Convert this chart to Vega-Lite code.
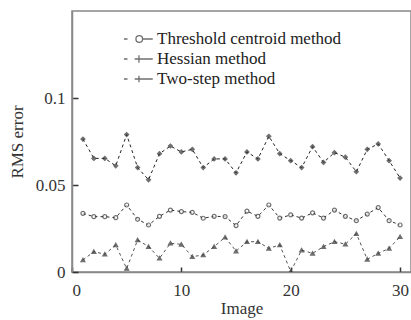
{
  "$schema": "https://vega.github.io/schema/vega-lite/v6.json",
  "width": 339,
  "height": 261,
  "autosize": {"type": "none"},
  "padding": {"left": 72, "top": 11, "right": 0, "bottom": 48},
  "background": "white",
  "config": {
    "font": "Liberation Serif",
    "view": {"stroke": "#888", "strokeWidth": 1.5},
    "axis": {"grid": false, "zindex": 1, "domainColor": "#888", "domainWidth": 1.5, "tickColor": "#333", "tickWidth": 1.5, "labelColor": "#333", "titleColor": "#333", "labelFont": "Liberation Serif", "titleFont": "Liberation Serif", "labelFontSize": 17, "titleFontSize": 17, "titleFontWeight": "normal"}
  },
  "data": {
    "values": [
      {"image": 1, "method": "Threshold centroid method", "rms": 0.0337},
      {"image": 2, "method": "Threshold centroid method", "rms": 0.0318},
      {"image": 3, "method": "Threshold centroid method", "rms": 0.0318},
      {"image": 4, "method": "Threshold centroid method", "rms": 0.0312},
      {"image": 5, "method": "Threshold centroid method", "rms": 0.0385},
      {"image": 6, "method": "Threshold centroid method", "rms": 0.0303},
      {"image": 7, "method": "Threshold centroid method", "rms": 0.027},
      {"image": 8, "method": "Threshold centroid method", "rms": 0.032},
      {"image": 9, "method": "Threshold centroid method", "rms": 0.0356},
      {"image": 10, "method": "Threshold centroid method", "rms": 0.0347},
      {"image": 11, "method": "Threshold centroid method", "rms": 0.0343},
      {"image": 12, "method": "Threshold centroid method", "rms": 0.0309},
      {"image": 13, "method": "Threshold centroid method", "rms": 0.032},
      {"image": 14, "method": "Threshold centroid method", "rms": 0.0318},
      {"image": 15, "method": "Threshold centroid method", "rms": 0.0267},
      {"image": 16, "method": "Threshold centroid method", "rms": 0.035},
      {"image": 17, "method": "Threshold centroid method", "rms": 0.032},
      {"image": 18, "method": "Threshold centroid method", "rms": 0.0385},
      {"image": 19, "method": "Threshold centroid method", "rms": 0.031},
      {"image": 20, "method": "Threshold centroid method", "rms": 0.0328},
      {"image": 21, "method": "Threshold centroid method", "rms": 0.031},
      {"image": 22, "method": "Threshold centroid method", "rms": 0.034},
      {"image": 23, "method": "Threshold centroid method", "rms": 0.031},
      {"image": 24, "method": "Threshold centroid method", "rms": 0.0356},
      {"image": 25, "method": "Threshold centroid method", "rms": 0.032},
      {"image": 26, "method": "Threshold centroid method", "rms": 0.0295},
      {"image": 27, "method": "Threshold centroid method", "rms": 0.0333},
      {"image": 28, "method": "Threshold centroid method", "rms": 0.037},
      {"image": 29, "method": "Threshold centroid method", "rms": 0.0295},
      {"image": 30, "method": "Threshold centroid method", "rms": 0.027},
      {"image": 1, "method": "Hessian method", "rms": 0.0764},
      {"image": 2, "method": "Hessian method", "rms": 0.0653},
      {"image": 3, "method": "Hessian method", "rms": 0.0653},
      {"image": 4, "method": "Hessian method", "rms": 0.061},
      {"image": 5, "method": "Hessian method", "rms": 0.079},
      {"image": 6, "method": "Hessian method", "rms": 0.06},
      {"image": 7, "method": "Hessian method", "rms": 0.053},
      {"image": 8, "method": "Hessian method", "rms": 0.068},
      {"image": 9, "method": "Hessian method", "rms": 0.0724},
      {"image": 10, "method": "Hessian method", "rms": 0.069},
      {"image": 11, "method": "Hessian method", "rms": 0.0705},
      {"image": 12, "method": "Hessian method", "rms": 0.06},
      {"image": 13, "method": "Hessian method", "rms": 0.065},
      {"image": 14, "method": "Hessian method", "rms": 0.065},
      {"image": 15, "method": "Hessian method", "rms": 0.057},
      {"image": 16, "method": "Hessian method", "rms": 0.069},
      {"image": 17, "method": "Hessian method", "rms": 0.065},
      {"image": 18, "method": "Hessian method", "rms": 0.078},
      {"image": 19, "method": "Hessian method", "rms": 0.068},
      {"image": 20, "method": "Hessian method", "rms": 0.064},
      {"image": 21, "method": "Hessian method", "rms": 0.06},
      {"image": 22, "method": "Hessian method", "rms": 0.072},
      {"image": 23, "method": "Hessian method", "rms": 0.063},
      {"image": 24, "method": "Hessian method", "rms": 0.0686},
      {"image": 25, "method": "Hessian method", "rms": 0.066},
      {"image": 26, "method": "Hessian method", "rms": 0.0576},
      {"image": 27, "method": "Hessian method", "rms": 0.0705},
      {"image": 28, "method": "Hessian method", "rms": 0.0736},
      {"image": 29, "method": "Hessian method", "rms": 0.064},
      {"image": 30, "method": "Hessian method", "rms": 0.054},
      {"image": 1, "method": "Two-step method", "rms": 0.0069},
      {"image": 2, "method": "Two-step method", "rms": 0.0117},
      {"image": 3, "method": "Two-step method", "rms": 0.0102},
      {"image": 4, "method": "Two-step method", "rms": 0.0155},
      {"image": 5, "method": "Two-step method", "rms": 0.002},
      {"image": 6, "method": "Two-step method", "rms": 0.0184},
      {"image": 7, "method": "Two-step method", "rms": 0.0146},
      {"image": 8, "method": "Two-step method", "rms": 0.0079},
      {"image": 9, "method": "Two-step method", "rms": 0.0165},
      {"image": 10, "method": "Two-step method", "rms": 0.0159},
      {"image": 11, "method": "Two-step method", "rms": 0.0088},
      {"image": 12, "method": "Two-step method", "rms": 0.0098},
      {"image": 13, "method": "Two-step method", "rms": 0.0146},
      {"image": 14, "method": "Two-step method", "rms": 0.02},
      {"image": 15, "method": "Two-step method", "rms": 0.012},
      {"image": 16, "method": "Two-step method", "rms": 0.0174},
      {"image": 17, "method": "Two-step method", "rms": 0.0174},
      {"image": 18, "method": "Two-step method", "rms": 0.0136},
      {"image": 19, "method": "Two-step method", "rms": 0.0155},
      {"image": 20, "method": "Two-step method", "rms": 0.0003},
      {"image": 21, "method": "Two-step method", "rms": 0.0126},
      {"image": 22, "method": "Two-step method", "rms": 0.0107},
      {"image": 23, "method": "Two-step method", "rms": 0.0146},
      {"image": 24, "method": "Two-step method", "rms": 0.0174},
      {"image": 25, "method": "Two-step method", "rms": 0.016},
      {"image": 26, "method": "Two-step method", "rms": 0.022},
      {"image": 27, "method": "Two-step method", "rms": 0.0073},
      {"image": 28, "method": "Two-step method", "rms": 0.0107},
      {"image": 29, "method": "Two-step method", "rms": 0.0136},
      {"image": 30, "method": "Two-step method", "rms": 0.0203}
    ]
  },
  "encoding": {
    "x": {"field": "image", "type": "quantitative", "title": "Image", "scale": {"domain": [0, 31], "nice": false},
      "axis": {"values": [0, 10, 20, 30], "ticks": true, "tickSize": -5, "labelPadding": 15, "titlePadding": 2}},
    "y": {"field": "rms", "type": "quantitative", "title": "RMS error", "scale": {"domain": [0, 0.15], "nice": false},
      "axis": {"values": [0, 0.05, 0.1], "format": "~g", "ticks": true, "tickSize": -6, "labelPadding": 13, "titlePadding": 9}}
  },
  "resolve": {"scale": {"shape": "independent"}, "legend": {"shape": "independent"}},
  "layer": [
    {
      "mark": {"type": "line", "strokeDash": [3, 3], "strokeWidth": 1, "clip": true},
      "encoding": {
        "detail": {"field": "method"},
        "color": {"field": "method", "type": "nominal", "scale": {"range": ["#222", "#333", "#555"]}, "legend": null}
      }
    },
    {
      "mark": {"type": "point", "size": 16, "strokeWidth": 1.2, "clip": true, "stroke": "#333"},
      "encoding": {
        "shape": {"field": "method", "type": "nominal",
          "scale": {"domain": ["Threshold centroid method", "Hessian method", "Two-step method"], "range": ["circle", "diamond", "triangle-up"]},
          "legend": null},
        "fill": {"condition": {"test": "datum.method == 'Threshold centroid method'", "value": "white"}, "value": "#333"}
      }
    },
    {
      "transform": [{"filter": "datum.image < 0"}],
      "mark": {"type": "point", "strokeWidth": 1.3, "stroke": "#333", "filled": false},
      "encoding": {
        "shape": {"field": "method", "type": "nominal",
          "scale": {"domain": ["Threshold centroid method", "Hessian method", "Two-step method"],
            "range": [
              "M-1.53,0H-1.16M-0.27,0A0.35,0.35 0 1,1 0.43,0A0.35,0.35 0 1,1 -0.27,0M0.43,0H1.5",
              "M-1.53,0H-1.16M-0.4,0H1.5M0.05,-0.4V0.4",
              "M-1.53,0H-1.16M-0.4,0H1.5M0.05,-0.35V0.35"
            ]},
          "legend": {"title": null, "orient": "none", "legendX": 56, "legendY": 17.5, "labelFontSize": 17, "labelFont": "Liberation Serif", "labelColor": "#222", "labelLimit": 400, "symbolSize": 361, "symbolStrokeWidth": 1.3, "symbolStrokeColor": "#333", "symbolFillColor": "transparent", "rowPadding": 1, "labelOffset": 8}}
      }
    }
  ]
}
